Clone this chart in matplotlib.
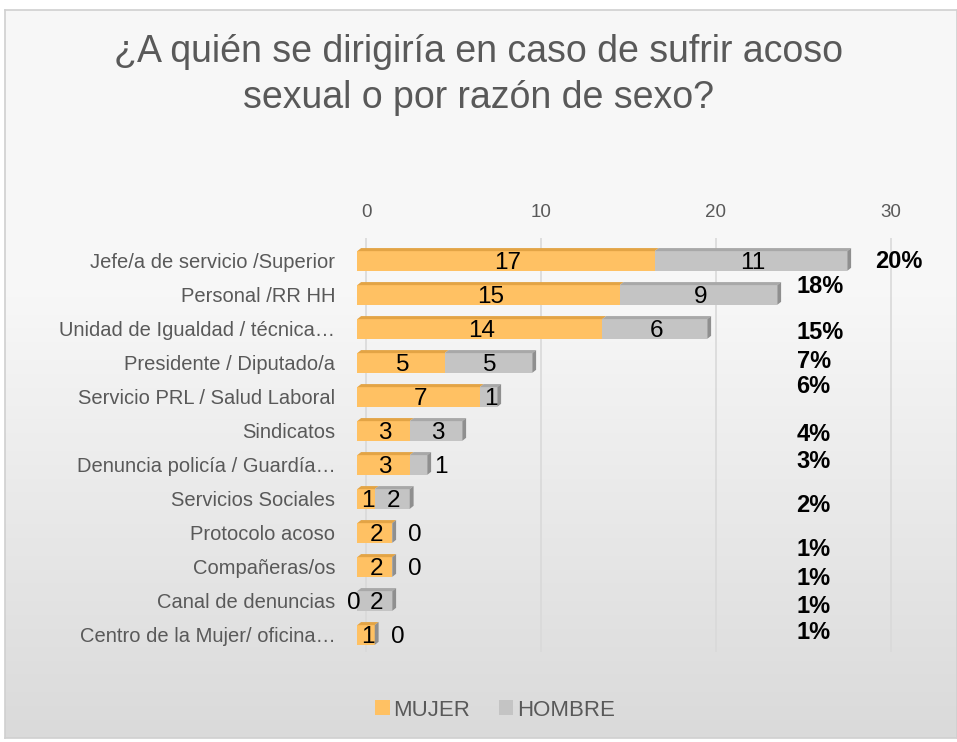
import matplotlib
matplotlib.use("Agg")
import matplotlib.pyplot as plt
import numpy as np
from matplotlib.patches import Polygon
from matplotlib import font_manager

categories = [
    "Jefe/a de servicio /Superior",
    "Personal /RR HH",
    "Unidad de Igualdad / técnica…",
    "Presidente / Diputado/a",
    "Servicio PRL / Salud Laboral",
    "Sindicatos",
    "Denuncia policía / Guardía…",
    "Servicios Sociales",
    "Protocolo acoso",
    "Compañeras/os",
    "Canal de denuncias",
    "Centro de la Mujer/ oficina…",
]
mujer = [17, 15, 14, 5, 7, 3, 3, 1, 2, 2, 0, 1]
hombre = [11, 9, 6, 5, 1, 3, 1, 2, 0, 0, 2, 0]
pct_labels = ["20%", "18%", "15%", "7%", "6%", "4%", "3%", "2%", "1%", "1%", "1%", "1%"]
xticks = [0, 10, 20, 30]

# layout of the free-floating percentage labels (x in data units, y in row units)
pct_x = [29.1, 24.6, 24.6, 24.6, 24.6, 24.6, 24.6, 24.6, 24.6, 24.6, 24.6, 24.6]
pct_y = [0.0, 0.76, 2.09, 2.97, 3.7, 5.1, 5.9, 7.2, 8.5, 9.35, 10.15, 10.94]

names = {f.name for f in font_manager.fontManager.ttflist}
title_font = "Liberation Sans Narrow" if "Liberation Sans Narrow" in names else "Liberation Sans"
base_font = "Liberation Sans"

W, H = 957, 742
fig = plt.figure(figsize=(W / 100, H / 100), dpi=100)
fig.patch.set_facecolor("white")

# background gradient panel
bg = fig.add_axes([5 / W, 4 / H, 1 - 5 / W, 1 - 14 / H])
grad = np.concatenate([np.full(60, 0.0), np.linspace(0, 1, 100)])
cvals = 0.972 - grad * (0.972 - 0.855)
img = np.repeat(cvals[:, None], 2, axis=1)
img = np.dstack([img, img, img])
bg.imshow(img, aspect="auto", extent=[0, 1, 0, 1], origin="upper")
bg.set_xlim(0, 1)
bg.set_ylim(0, 1)
for s in bg.spines.values():
    s.set_color("#d0d0d0")
    s.set_linewidth(1.2)
bg.set_xticks([])
bg.set_yticks([])

# main axes
ppu = 17.5
x0px = 366
ax_left_px, ax_right_px = 352, 925
ax_top_px, ax_bot_px = 238, 652
ax = fig.add_axes([ax_left_px / W, 1 - ax_bot_px / H,
                   (ax_right_px - ax_left_px) / W, (ax_bot_px - ax_top_px) / H])
ax.set_facecolor("none")
ax.set_xlim((ax_left_px - x0px) / ppu, (ax_right_px - x0px) / ppu)
n = len(categories)
row_px = 34
first_row_px = 261
ax.set_ylim((ax_bot_px - first_row_px) / row_px, (ax_top_px - first_row_px) / row_px)

for s in ax.spines.values():
    s.set_visible(False)
ax.xaxis.tick_top()
ax.set_xticks(xticks)
ax.set_xticklabels([str(t) for t in xticks], fontsize=13.5, color="#595959", family=base_font)
ax.tick_params(axis="x", length=0, pad=12)
for t in xticks:
    ax.axvline(t, color="#d9d9d9", lw=1.2, zorder=0, ymin=0.0, ymax=1.0)

y = np.arange(n)
ax.set_yticks(y)
ax.set_yticklabels(categories, fontsize=14.5, color="#595959", family=base_font)
ax.tick_params(axis="y", length=0, pad=12)

orange, orange_top = "#FFC163", "#E3A445"
gray, gray_top, gray_cap = "#C4C4C4", "#A8A8A8", "#8F8F8F"
h = 0.58
shift = -0.5  # front face shift (3D look)
dx, dy = 0.22, 0.09

m = np.array(mujer, dtype=float)
hm = np.array(hombre, dtype=float)
b1 = ax.barh(y, m, left=shift, height=h, color=orange, zorder=3, label="MUJER")
b2 = ax.barh(y, hm, left=m + shift, height=h, color=gray, zorder=3, label="HOMBRE")

for i in range(n):
    top = y[i] - h / 2
    if m[i] > 0:
        l, r = shift, shift + m[i]
        ax.add_patch(Polygon([(l, top), (l + dx, top - dy), (r + dx, top - dy), (r, top)],
                             closed=True, color=orange_top, zorder=3, lw=0))
    if hm[i] > 0:
        l, r = shift + m[i], shift + m[i] + hm[i]
        ax.add_patch(Polygon([(l, top), (l + dx, top - dy), (r + dx, top - dy), (r, top)],
                             closed=True, color=gray_top, zorder=3, lw=0))
    end = shift + m[i] + hm[i]
    ax.add_patch(Polygon([(end, top), (end + dx, top - dy), (end + dx, top + h - dy), (end, top + h)],
                         closed=True, color=gray_cap, zorder=3, lw=0))

lab_kw = dict(fontsize=17.5, color="black", family=base_font, va="center", zorder=5)
for i in range(n):
    yy = y[i] + 0.06
    if m[i] > 0:
        ax.text(shift + m[i] / 2 + 0.1, yy, str(mujer[i]), ha="center", **lab_kw)
    else:
        ax.text(shift - 0.2, yy, str(mujer[i]), ha="center", **lab_kw)
    end = shift + m[i] + hm[i]
    if hm[i] >= 2:
        ax.text(shift + m[i] + hm[i] / 2 + 0.1, yy, str(hombre[i]), ha="center", **lab_kw)
    elif hm[i] == 1:
        if m[i] >= 5:
            ax.text(end - 0.35, yy, str(hombre[i]), ha="center", **lab_kw)
        else:
            ax.text(end + 0.8, yy, str(hombre[i]), ha="center", **lab_kw)
    else:
        ax.text(end + 1.3, yy, str(hombre[i]), ha="center", **lab_kw)

for lab, px, py in zip(pct_labels, pct_x, pct_y):
    ax.text(px, py, lab, ha="left", va="center", fontsize=17, fontweight="bold",
            family=base_font, color="black", clip_on=False, zorder=5)

fig.text(0.5, 1 - 52 / H, "¿A quién se dirigiría en caso de sufrir acoso",
         ha="center", va="center", fontsize=27, color="#595959", family=title_font)
fig.text(0.5, 1 - 98 / H, "sexual o por razón de sexo?",
         ha="center", va="center", fontsize=27, color="#595959", family=title_font)

leg = fig.legend(handles=[b1, b2], labels=["MUJER", "HOMBRE"], loc="center",
                 bbox_to_anchor=(495 / W, 1 - 710 / H), ncol=2, frameon=False,
                 prop={"family": base_font, "size": 16}, handlelength=0.65, handleheight=0.65,
                 handletextpad=0.15, columnspacing=1.3, labelcolor="#595959")

fig.savefig("out.png", dpi=100, facecolor=fig.get_facecolor())
